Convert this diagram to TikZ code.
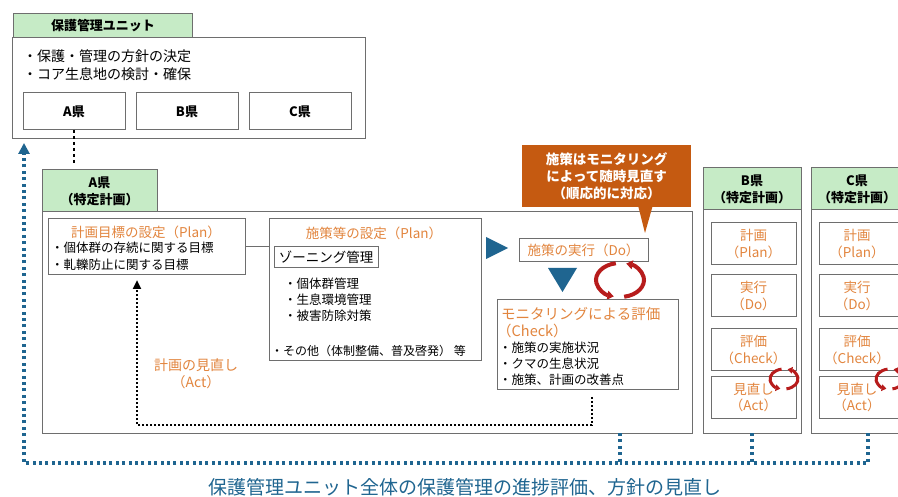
\documentclass[tikz,border=0pt]{standalone}
\usepackage{fontspec}
\setmainfont{Noto Sans CJK JP}
\usetikzlibrary{arrows.meta}
\definecolor{tabgreen}{HTML}{C6EBC6}
\definecolor{orT}{HTML}{E2853E}
\definecolor{callfill}{HTML}{C55A11}
\definecolor{tealB}{HTML}{1F6590}
\definecolor{cycR}{HTML}{B71C1C}
\definecolor{bord}{HTML}{6E6E6E}
\newcommand\fs[1]{\fontsize{#1}{#1}\selectfont}
\tikzset{
  box/.style={draw=bord, line width=1pt, inner sep=0pt, outer sep=0pt, anchor=north west},
  tabbox/.style={box, fill=tabgreen},
  txt/.style={inner sep=0pt, font=\fs{12.5}},
  otxt/.style={txt, text=orT},
  bluedot/.style={draw=tealB, line width=3.2pt, dash pattern=on 3pt off 3.4pt},
  blackdot/.style={draw=black, line width=2.6pt, dash pattern=on 2.2pt off 1.8pt},
  cyc/.style={draw=cycR, line width=#1, -{Triangle[length=1.6*#1,width=2.2*#1]}},
  tri/.style={fill=tealB},
}
\begin{document}
\begin{tikzpicture}[x=1pt,y=-1pt]
\fill[white] (0,0) rectangle (898,497);
\clip (0,0) rectangle (898,497);

% ---------- unit ----------
\node[box, minimum width=353pt, minimum height=101pt] (unit) at (12,38) {};
\node[tabbox, minimum width=179pt, minimum height=24pt] (unittab) at (13,14) {};
\node[txt, font=\fs{13}\bfseries] (unittabt) at (103,26) {保護管理ユニット};
\node[txt, font=\fs{14}, anchor=west] (ub1) at (23,56) {・保護・管理の方針の決定};
\node[txt, font=\fs{14}, anchor=west] (ub2) at (23,74) {・コア生息地の検討・確保};
\node[box, minimum width=102pt, minimum height=37pt] (uA) at (23,93) {};
\node[box, minimum width=102pt, minimum height=37pt] (uB) at (136,93) {};
\node[box, minimum width=102pt, minimum height=37pt] (uC) at (249,93) {};
\node[txt, font=\fs{13}\bfseries] (uAt) at (uA.center) {A県};
\node[txt, font=\fs{13}\bfseries] (uBt) at (uB.center) {B県};
\node[txt, font=\fs{13}\bfseries] (uCt) at (uC.center) {C県};
\coordinate (uAend) at (74,163);
\draw[line width=1.2pt, dash pattern=on 3pt off 3pt] (uA.south) -- (uAend);

% ---------- A ----------
\node[tabbox, minimum width=115pt, minimum height=42pt] (Atab) at (42,170) {};
\node[txt, font=\fs{13}\bfseries, align=center] (Atabt) at (Atab.center) {A県\\[4pt]（特定計画）};
\node[box, minimum width=650pt, minimum height=221pt] (Abig) at (42,212) {};

\node[box, minimum width=197pt, minimum height=56pt] (goal) at (48,219) {};
\node[otxt, font=\fs{13.5}] (goalt) at (146,232) {計画目標の設定（Plan）};
\node[txt, anchor=west] (g1) at (51,248) {・個体群の存続に関する目標};
\node[txt, anchor=west] (g2) at (51,265) {・軋轢防止に関する目標};

\node[box, minimum width=212pt, minimum height=142pt] (meas) at (269,219) {};
\draw[draw=bord, line width=1pt] (goal.east) -- (goal.east -| meas.west);
\node[otxt, font=\fs{13.5}] (meast) at (374,233) {施策等の設定（Plan）};
\node[box, minimum width=104pt, minimum height=21pt] (zone) at (274,247) {};
\node[txt, font=\fs{13.5}] (zonet) at (zone.center) {ゾーニング管理};
\node[txt, anchor=west] (m1) at (284,284) {・個体群管理};
\node[txt, anchor=west] (m2) at (284,300) {・生息環境管理};
\node[txt, anchor=west] (m3) at (284,316) {・被害防除対策};
\node[txt, font=\fs{12}, anchor=west] (m4) at (271,351) {・その他（体制整備、普及啓発） 等};

\fill[tri] (486,237) -- (508,248) -- (486,259) -- cycle;
\node[box, minimum width=129pt, minimum height=23pt] (do) at (519,239) {};
\node[otxt, font=\fs{13.5}] (dot) at (do.center) {施策の実行（Do）};
\fill[tri] (548,268) -- (577,268) -- (562.5,292) -- cycle;

\coordinate (cycA) at (620,280);
\draw[cyc=4pt] ([shift={(100:24pt and 17pt)}]cycA) arc[start angle=100, end angle=255, x radius=24pt, y radius=17pt];
\draw[cyc=4pt] ([shift={(280:24pt and 17pt)}]cycA) arc[start angle=280, end angle=435, x radius=24pt, y radius=17pt];

\node[box, minimum width=181pt, minimum height=90pt] (check) at (497,300) {};
\node[otxt, font=\fs{14.5}, anchor=west] (c1) at (501,314) {モニタリングによる評価};
\node[otxt, font=\fs{14.5}, anchor=west] (c2) at (497,331) {（Check）};
\node[txt, anchor=west] (c3) at (499,348) {・施策の実施状況};
\node[txt, anchor=west] (c4) at (499,364) {・クマの生息状況};
\node[txt, anchor=west] (c5) at (499,380) {・施策、計画の改善点};

% callout
\node[anchor=north west, fill=callfill, minimum width=169pt, minimum height=62pt, inner sep=0pt] (call) at (522,145) {};
\fill[callfill] ([xshift=-53pt,yshift=0.5pt]call.south east) -- (645,233) -- ([xshift=-39pt,yshift=0.5pt]call.south east) -- cycle;
\node[txt, font=\fs{13.5}\bfseries, text=white, align=center] (callt) at (call.center)
  {施策はモニタリング\\[3.5pt]によって随時見直す\\[3.5pt]（順応的に対応）};

% Act loop
\coordinate (act1) at (592,397);
\coordinate (act2) at (592,425);
\coordinate (act3) at (137,425);
\draw[blackdot, -{Triangle[length=9pt,width=8pt]}] (act1) -- (act2) -- (act3) -- ([yshift=-5pt]goal.south -| act3);
\node[otxt, font=\fs{14}, align=center] (actt) at (196,374) {計画の見直し\\[3pt]（Act）};

% ---------- B ----------
\node[tabbox, minimum width=98pt, minimum height=42pt] (Btab) at (703,168) {};
\node[txt, font=\fs{13}\bfseries, align=center] (Btabt) at (Btab.center) {B県\\[4pt]（特定計画）};
\node[box, minimum width=98pt, minimum height=223pt] (Bbig) at (703,210) {};
\node[box, minimum width=85pt, minimum height=42pt] (Bp) at (711,223) {};
\node[box, minimum width=85pt, minimum height=42pt] (Bd) at (711,275) {};
\node[box, minimum width=85pt, minimum height=42pt] (Bc) at (711,329) {};
\node[box, minimum width=85pt, minimum height=41pt] (Ba) at (711,377) {};
\node[otxt, font=\fs{13.5}, align=center] (Bpt) at (Bp.center) {計画\\[3pt]（Plan）};
\node[otxt, font=\fs{13.5}, align=center] (Bdt) at (Bd.center) {実行\\[3pt]（Do）};
\node[otxt, font=\fs{13.5}, align=center] (Bct) at (Bc.center) {評価\\[3pt]（Check）};
\node[otxt, font=\fs{13.5}, align=center] (Bat) at (Ba.center) {見直し\\[3pt]（Act）};
\coordinate (cycB) at (784,379);
\draw[cyc=3pt] ([shift={(100:14pt and 10pt)}]cycB) arc[start angle=100, end angle=255, x radius=14pt, y radius=10pt];
\draw[cyc=3pt] ([shift={(280:14pt and 10pt)}]cycB) arc[start angle=280, end angle=435, x radius=14pt, y radius=10pt];

% ---------- C ----------
\node[tabbox, minimum width=94pt, minimum height=42pt] (Ctab) at (811,168) {};
\node[txt, font=\fs{13}\bfseries, align=center] (Ctabt) at (857,189) {C県\\[4pt]（特定計画）};
\node[box, minimum width=94pt, minimum height=223pt] (Cbig) at (811,210) {};
\node[box, minimum width=85pt, minimum height=42pt] (Cp) at (819,223) {};
\node[box, minimum width=85pt, minimum height=42pt] (Cd) at (819,275) {};
\node[box, minimum width=85pt, minimum height=42pt] (Cc) at (819,329) {};
\node[box, minimum width=85pt, minimum height=41pt] (Ca) at (819,377) {};
\node[otxt, font=\fs{13.5}, align=center] (Cpt) at (857,244) {計画\\[3pt]（Plan）};
\node[otxt, font=\fs{13.5}, align=center] (Cdt) at (857,296) {実行\\[3pt]（Do）};
\node[otxt, font=\fs{13.5}, align=center] (Cct) at (857,350) {評価\\[3pt]（Check）};
\node[otxt, font=\fs{13.5}, align=center] (Cat) at (857,397.5) {見直し\\[3pt]（Act）};
\coordinate (cycC) at (890,379);
\draw[cyc=3pt] ([shift={(100:14pt and 10pt)}]cycC) arc[start angle=100, end angle=255, x radius=14pt, y radius=10pt];
\draw[cyc=3pt] ([shift={(280:14pt and 10pt)}]cycC) arc[start angle=280, end angle=435, x radius=14pt, y radius=10pt];

% ---------- blue feedback ----------
\coordinate (jA) at (620,463);
\coordinate (jB) at (752,463);
\coordinate (jC) at (868,463);
\coordinate (jL) at (24,463);
\draw[bluedot, -{Triangle[length=11pt,width=11pt]}] (Abig.south -| jA) -- (jA) -- (jL) -- ([yshift=-4pt]unit.south -| jL);
\draw[bluedot] (Bbig.south -| jB) -- (jB) -- (jA);
\draw[bluedot] (Cbig.south -| jC) -- (jC) -- (jB);

\node[txt, font=\fs{19}, text=tealB] (bottomt) at (465,487) {保護管理ユニット全体の保護管理の進捗評価、方針の見直し};
\end{tikzpicture}
\end{document}
